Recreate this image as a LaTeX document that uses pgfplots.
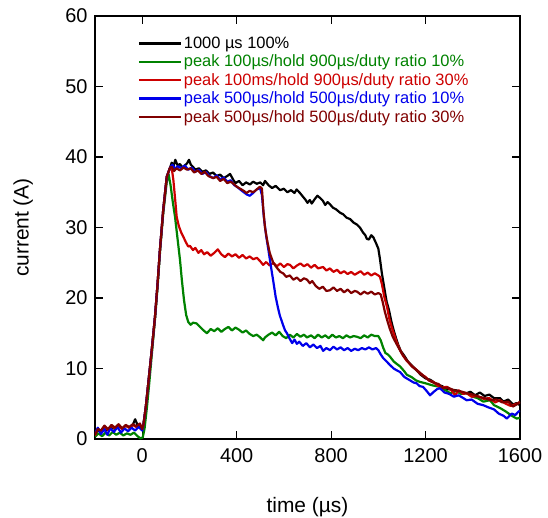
\documentclass[border=0pt]{standalone}
\usepackage{pgfplots}
\pgfplotsset{compat=1.18}
\usepackage{fontspec}
\setmainfont{Liberation Sans}
\definecolor{cgreen}{RGB}{0,130,0}
\definecolor{cred}{RGB}{205,0,0}
\definecolor{cblue}{RGB}{0,0,235}
\definecolor{cbrown}{RGB}{128,0,0}

\begin{document}
\begin{tikzpicture}
\begin{axis}[
    name=ax,
    scale only axis,
    width=425bp, height=423bp,
    xmin=-200, xmax=1600, ymin=0, ymax=60,
    xtick={0,400,800,1200,1600},
    ytick={0,10,20,30,40,50,60},
    tick align=inside,
    major tick length=8bp,
    tick style={black, line width=1.1bp},
    axis line style={line width=1.2bp},
    /pgf/number format/assume math mode=true,
    /pgf/number format/set thousands separator={},
    ticklabel style={font=\fontsize{20}{24}\selectfont},
    xticklabel style={yshift=-6bp},
    yticklabel style={xshift=-4bp},
    xlabel={time (µs)},
    ylabel={current (A)},
    label style={font=\fontsize{21}{25}\selectfont},
    xlabel style={at={(axis description cs:0.5,-0.1726)}, anchor=base},
    ylabel style={at={(axis description cs:-0.169,0.5)}, anchor=center},
    legend style={at={(axis description cs:0.093,0.96)}, anchor=north west,
        draw=none, fill=none, font=\fontsize{16.5}{19}\selectfont,
        row sep=1bp},
    legend cell align=left,
    legend image code/.code={\draw[#1] (0bp,0bp) -- (42bp,0bp);},
    every axis plot/.append style={line width=2.2bp, line join=round},
]
\coordinate (sw) at (rel axis cs:0,0);
% 1000 us 100%
\addplot[black] table {
-200 0.4
-190 1.2
-175 1.0
-160 1.5
-145 1.2
-130 1.7
-115 1.4
-100 1.8
-85 1.5
-70 1.9
-55 1.6
-40 2.0
-30 2.8
-20 2.0
-10 1.8
0 1.6
5 2.0
15 4.5
26 8
40 12.5
54 17.3
65 22
75 26.8
89 32.5
104 37.2
118 38.5
125 39.2
132 38.6
140 39.6
150 38.8
160 39.0
170 38.5
180 38.8
190 39.1
198 39.6
206 38.9
215 38.6
225 38.2
240 38.4
255 37.9
270 38.1
285 37.6
300 37.8
315 37.3
330 37.5
345 37.0
360 37.3
372 37.6
385 36.8
395 36.3
410 36.6
425 36.0
440 36.4
456 36.1
470 36.5
485 36.2
500 36.4
512 36.0
520 36.6
535 36.0
550 35.6
565 35.9
584 35.3
600 35.5
615 35.0
630 35.3
645 34.9
654 35.4
668 34.9
680 34.4
690 34.0
700 33.5
710 33.9
718 33.4
730 34.0
742 34.5
753 34.2
765 33.8
775 33.2
785 33.6
795 33.3
808 32.8
820 32.6
838 32.1
850 31.9
865 31.4
880 31.2
895 30.7
910 30.4
922 30.0
935 29.3
945 28.9
951 28.4
960 28.3
970 28.9
979 28.6
990 27.8
1000 27.0
1007 25.5
1015 23.5
1025 21.5
1035 19.5
1045 18.3
1055 16.7
1065 15.4
1075 14.3
1085 13.3
1095 12.5
1110 11.8
1125 11.0
1140 10.5
1160 9.8
1180 9.1
1200 8.6
1220 8.4
1233 8.1
1250 7.7
1270 7.5
1290 7.1
1310 7.0
1330 6.9
1350 6.6
1374 6.5
1390 6.7
1410 6.2
1430 6.6
1450 6.1
1470 6.3
1490 5.8
1515 5.8
1530 5.3
1550 5.6
1570 4.9
1586 5.1
1600 4.8
};
\addlegendentry[text=black]{1000 µs 100\%}
% peak 100us / hold 900us / 10%
\addplot[cgreen] table {
-200 0.3
-185 0.8
-170 0.4
-155 0.9
-140 0.5
-125 1.0
-110 0.6
-95 0.9
-80 0.5
-65 0.8
-50 0.6
-35 0.9
-20 0.4
-8 0.1
2 0.2
10 1.5
20 4.5
30 8
42 12.5
55 17.3
66 22
76 26.8
89 32.0
104 36.5
112 37.5
120 36.0
130 33.5
139 31.5
150 28.3
160 25.4
168 22.5
177 19.7
186 17.6
195 16.6
205 16.2
215 16.5
230 16.4
245 15.9
260 15.4
274 15.0
290 15.6
305 15.3
320 15.7
335 15.2
350 15.6
365 15.9
380 15.4
395 15.8
410 15.5
425 15.1
440 15.4
455 14.9
470 14.6
485 14.8
500 14.4
512 14.0
520 14.4
535 14.8
550 15.1
565 14.7
580 15.2
595 14.6
610 14.3
625 14.8
640 14.4
655 14.9
670 14.5
685 14.8
698 14.4
715 14.7
730 14.3
745 14.8
760 14.4
775 14.7
790 14.3
805 14.8
820 14.4
835 14.6
850 14.3
865 14.7
880 14.4
895 14.6
910 14.5
925 14.3
940 14.7
955 14.4
970 14.8
985 14.6
1000 14.6
1010 14.0
1020 13.0
1030 12.2
1040 12.0
1049 11.7
1065 11.0
1080 10.6
1092 10.3
1110 9.6
1121 9.1
1140 8.8
1160 8.3
1176 8.1
1200 7.9
1230 7.6
1261 7.4
1285 6.9
1304 6.5
1330 6.8
1350 6.4
1374 6.5
1400 6.0
1420 5.8
1445 5.3
1473 5.5
1490 4.8
1515 4.4
1540 3.9
1565 3.3
1586 2.9
1600 3.0
};
\addlegendentry[text=cgreen]{peak 100µs/hold 900µs/duty ratio 10\%}
% peak 100ms / hold 900us / 30%
\addplot[cred] table {
-200 0.5
-188 1.5
-175 1.1
-160 1.8
-145 1.3
-130 1.9
-115 1.5
-100 2.0
-85 1.4
-70 1.9
-55 1.6
-40 2.0
-25 1.7
-10 2.1
0 1.5
5 2.0
15 4.5
26 8
40 12.5
54 17.3
65 22
75 26.8
89 32.5
104 37.2
118 38.5
126 38.2
132 36.7
140 33.8
146 31.5
155 30.2
165 29.3
174 28.7
185 27.9
195 27.3
202 27.4
215 26.8
225 27.1
238 26.4
250 26.8
262 26.2
275 26.5
290 26.0
305 26.4
320 26.9
335 26.2
350 25.8
365 26.3
380 25.9
395 26.2
410 25.7
425 26.1
440 25.6
455 25.9
470 25.5
486 25.7
500 25.2
512 24.7
525 25.1
540 24.6
555 25.0
570 24.5
585 24.9
600 24.4
615 24.8
626 24.7
640 24.2
655 24.6
670 24.9
685 24.5
700 24.8
715 24.3
730 24.7
745 24.2
766 24.4
780 23.9
795 24.2
810 23.7
825 24.0
840 23.5
855 23.8
870 23.4
885 23.7
900 23.3
910 23.5
925 23.8
940 23.3
955 23.6
970 23.2
985 23.5
1000 23.2
1007 23.0
1015 22.0
1025 20.2
1037 18.7
1047 17.0
1057 15.8
1067 14.8
1077 13.8
1092 12.6
1105 11.8
1120 11.1
1140 10.4
1162 9.8
1180 9.2
1200 8.8
1215 8.3
1233 8.1
1250 7.6
1270 7.3
1290 7.4
1310 6.9
1325 6.2
1340 6.9
1360 6.4
1374 6.5
1395 6.0
1420 6.1
1445 5.7
1470 5.8
1495 5.2
1515 5.5
1540 5.0
1560 4.7
1586 5.0
1600 5.2
};
\addlegendentry[text=cred]{peak 100ms/hold 900µs/duty ratio 30\%}
% peak 500us / hold 500us / 10%
\addplot[cblue] table {
-200 0.8
-188 1.6
-175 0.7
-160 1.4
-148 0.6
-135 1.5
-120 1.0
-105 1.7
-90 0.9
-75 1.5
-60 1.1
-45 1.6
-30 1.2
-15 1.7
0 1.2
5 2.0
15 4.5
26 8
40 12.5
54 17.3
65 22
75 26.8
89 32.5
104 37.2
118 38.5
128 38.9
140 38.3
150 38.7
165 38.4
180 38.8
195 38.2
210 38.5
225 37.9
240 38.2
255 37.6
270 37.9
285 37.3
301 37.0
315 37.4
330 36.8
345 37.1
360 36.5
375 36.7
390 36.0
400 35.8
415 35.4
430 35.0
442 34.7
455 34.5
470 34.9
485 35.4
499 35.6
507 34.6
515 31.5
525 28.8
535 26.7
545 24.5
555 22.4
565 20.2
575 18.6
583 17.5
595 16.3
605 15.4
613 15.0
625 14.2
635 13.6
645 14.1
655 13.5
665 13.8
680 13.2
695 13.6
710 13.0
725 13.4
740 12.9
755 13.2
766 12.5
780 12.9
795 12.6
810 13.1
825 12.7
840 13.0
855 12.6
870 12.9
885 12.5
900 12.8
915 12.6
930 12.9
945 12.7
960 13.0
975 12.7
990 12.9
1000 12.6
1010 12.0
1020 11.5
1035 11.0
1049 10.5
1065 10.0
1080 9.7
1092 9.5
1110 8.8
1130 8.4
1150 8.0
1162 7.9
1175 7.5
1189 7.4
1205 6.8
1219 6.2
1235 6.7
1250 7.1
1261 7.2
1280 6.6
1300 6.4
1320 6.0
1340 6.2
1360 5.8
1374 5.5
1395 5.6
1420 5.0
1444 4.8
1465 4.5
1490 4.2
1510 3.6
1530 3.3
1544 2.9
1565 3.6
1580 3.4
1594 3.9
1600 4.0
};
\addlegendentry[text=cblue]{peak 500µs/hold 500µs/duty ratio 10\%}
% peak 500us / hold 500us / 30%
\addplot[cbrown] table {
-200 0.6
-188 1.4
-175 1.2
-160 1.9
-145 1.4
-130 2.0
-115 1.6
-100 2.1
-85 1.5
-70 2.0
-55 1.7
-40 2.1
-25 1.8
-10 2.2
0 1.4
5 2.0
15 4.5
26 8
40 12.5
54 17.3
65 22
75 26.8
89 32.5
104 37.2
118 38.5
125 38.6
135 38.0
145 38.4
160 38.1
175 38.5
190 38.2
205 38.4
220 37.8
235 38.1
250 37.6
265 37.9
280 37.3
301 37.0
315 37.2
330 36.6
345 36.9
360 36.3
375 36.5
390 36.1
400 35.8
415 35.5
430 35.2
442 34.9
455 35.2
470 35.0
485 35.4
499 35.8
507 35.5
513 32.5
520 30.0
530 28.0
540 26.4
555 25.0
570 24.3
585 23.7
597 23.5
610 23.0
625 23.2
640 22.6
655 22.9
670 22.4
685 22.8
698 22.6
710 22.1
720 22.4
735 21.7
750 21.3
765 21.6
780 21.0
795 21.1
810 21.5
825 21.0
840 21.3
855 20.8
870 21.2
885 20.7
900 21.0
910 20.9
925 20.5
940 20.9
955 20.6
970 20.9
985 20.5
1000 20.7
1010 20.5
1018 19.5
1028 18.0
1038 16.8
1048 15.7
1060 14.6
1072 13.8
1085 13.0
1100 12.1
1115 11.4
1130 10.8
1145 10.2
1162 9.8
1180 9.3
1200 8.7
1215 8.3
1233 8.0
1255 7.8
1275 7.2
1295 7.3
1320 6.9
1345 6.8
1374 6.5
1400 6.3
1425 6.0
1450 5.8
1475 5.5
1500 5.6
1525 5.2
1550 5.3
1570 4.6
1586 4.9
1600 5.3
};
\addlegendentry[text=cbrown]{peak 500µs/hold 500µs/duty ratio 30\%}
\end{axis}
\pgfresetboundingbox
\path (sw) ++(-95bp,-79bp) rectangle ++(548bp,518bp);
\end{tikzpicture}
\end{document}
